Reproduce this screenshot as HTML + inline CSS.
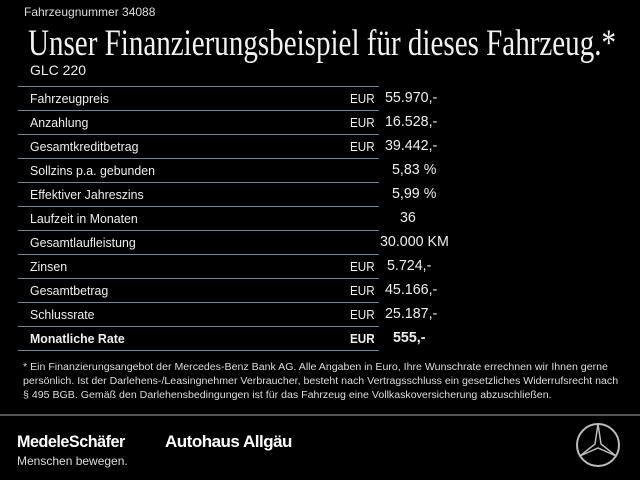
<!DOCTYPE html>
<html><head><meta charset="utf-8"><style>
body{margin:0;width:640px;height:480px;background:#000;color:#fff;font-family:"Liberation Sans",sans-serif;overflow:hidden;position:relative}
.a{position:absolute;white-space:nowrap}
.line{position:absolute;left:18px;width:361px;height:1px;background:#6d8596}
.row{position:absolute;left:30px;font-size:13px;color:#eee;transform:scaleX(0.95);transform-origin:0 0}
.eur{position:absolute;left:350px;font-size:13px;color:#eee;transform:scaleX(0.9);transform-origin:0 0}
.val{position:absolute;font-size:15px;color:#eee;transform:scaleX(0.95);transform-origin:0 0}
</style></head><body>
<div class="a" style="left:24px;top:5px;font-size:12px;color:#ddd">Fahrzeugnummer 34088</div>
<div class="a" style="left:28px;top:22px;font-size:37px;font-family:'Liberation Serif',serif;color:#f2f2f2;transform:scaleX(0.785);transform-origin:0 0">Unser Finanzierungsbeispiel für dieses Fahrzeug.*</div>
<div class="a" style="left:30px;top:62px;font-size:14px;color:#eee">GLC 220</div>

<div class="line" style="top:86px"></div>
<div class="line" style="top:110px"></div>
<div class="line" style="top:134px"></div>
<div class="line" style="top:158px"></div>
<div class="line" style="top:182px"></div>
<div class="line" style="top:206px"></div>
<div class="line" style="top:230px"></div>
<div class="line" style="top:254px"></div>
<div class="line" style="top:278px"></div>
<div class="line" style="top:302px"></div>
<div class="line" style="top:326px"></div>
<div class="line" style="top:350px"></div>

<div class="row" style="top:91px">Fahrzeugpreis</div><div class="eur" style="top:91px">EUR</div><div class="val" style="top:89px;left:385px">55.970,-</div>
<div class="row" style="top:115px">Anzahlung</div><div class="eur" style="top:115px">EUR</div><div class="val" style="top:113px;left:385px">16.528,-</div>
<div class="row" style="top:139px">Gesamtkreditbetrag</div><div class="eur" style="top:139px">EUR</div><div class="val" style="top:137px;left:385px">39.442,-</div>
<div class="row" style="top:163px">Sollzins p.a. gebunden</div><div class="val" style="top:161px;left:392px">5,83 %</div>
<div class="row" style="top:187px">Effektiver Jahreszins</div><div class="val" style="top:185px;left:392px">5,99 %</div>
<div class="row" style="top:211px">Laufzeit in Monaten</div><div class="val" style="top:209px;left:400px">36</div>
<div class="row" style="top:235px">Gesamtlaufleistung</div><div class="val" style="top:233px;left:380px">30.000 KM</div>
<div class="row" style="top:259px">Zinsen</div><div class="eur" style="top:259px">EUR</div><div class="val" style="top:257px;left:387px">5.724,-</div>
<div class="row" style="top:283px">Gesamtbetrag</div><div class="eur" style="top:283px">EUR</div><div class="val" style="top:281px;left:385px">45.166,-</div>
<div class="row" style="top:307px">Schlussrate</div><div class="eur" style="top:307px">EUR</div><div class="val" style="top:305px;left:385px">25.187,-</div>
<div class="row" style="top:331px;font-weight:bold">Monatliche Rate</div><div class="eur" style="top:331px;font-weight:bold">EUR</div><div class="val" style="top:329px;left:393px;font-weight:bold">555,-</div>

<div class="a" style="left:23px;top:361px;font-size:10px;line-height:14px;color:#ddd;transform:scaleX(1.06);transform-origin:0 0">* Ein Finanzierungsangebot der Mercedes-Benz Bank AG. Alle Angaben in Euro, Ihre Wunschrate errechnen wir Ihnen gerne<br>persönlich. Ist der Darlehens-/Leasingnehmer Verbraucher, besteht nach Vertragsschluss ein gesetzliches Widerrufsrecht nach<br>§ 495 BGB. Gemäß den Darlehensbedingungen ist für das Fahrzeug eine Vollkaskoversicherung abzuschließen.</div>

<div style="position:absolute;left:0;top:414px;width:640px;height:2px;background:#555"></div>
<div class="a" style="left:17px;top:432px;font-size:17px;font-weight:bold;letter-spacing:-0.5px;transform:scaleX(0.95);transform-origin:0 0">MedeleSchäfer</div>
<div class="a" style="left:165px;top:432px;font-size:17px;font-weight:bold;letter-spacing:-0.5px">Autohaus Allgäu</div>
<div class="a" style="left:17px;top:454px;font-size:12px;color:#ddd">Menschen bewegen.</div>
<svg style="position:absolute;left:575px;top:422px" width="46" height="46" viewBox="0 0 46 46">
<circle cx="23" cy="23" r="21" fill="none" stroke="#bbb" stroke-width="2"/>
<path d="M23 2 L26 22 L41 34 L23 26 L5 34 L20 22 Z" fill="none" stroke="#bbb" stroke-width="1.5"/>
</svg>
</body></html>
